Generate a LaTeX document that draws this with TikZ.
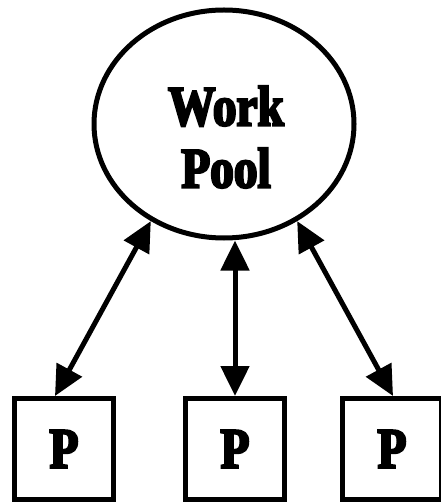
\documentclass[tikz,border=0pt]{standalone}
\usepackage{fontspec}
\setmainfont{Liberation Serif}
\newfontfamily\diagfont[FakeStretch=0.83,BoldFeatures={FakeBold=4}]{Liberation Serif}
\usetikzlibrary{arrows.meta,shapes.geometric}

\begin{document}
\begin{tikzpicture}[x=1pt,y=-1pt,line width=5pt,
    bigtext/.style={font=\diagfont\bfseries\fontsize{57}{62}\selectfont},
    procbox/.style={draw,rectangle,minimum width=99pt,minimum height=101pt,inner sep=0pt,bigtext},
    link/.style={{Triangle[length=30pt,width=28pt]}-{Triangle[length=30pt,width=28pt]}}]
    \useasboundingbox (0,0) rectangle (440,502);

    % Work pool
    \node[draw,ellipse,minimum width=260pt,minimum height=228pt,inner sep=0pt] (pool) at (224,124) {};
    \node[bigtext,align=center,inner sep=0pt] (pooltext) at (226,137) {Work\\Pool};

    % Processes
    \node[procbox] (p1) at (64,449) {P};
    \node[procbox] (p2) at (235,449) {P};
    \node[procbox] (p3) at (392,449) {P};

    % Two-way links
    \draw[link] (pool.233) -- ([xshift=-9pt]p1.north);
    \draw[link] (p2.north |- pool.south) -- (p2.north);
    \draw[link] (pool.307) -- ([xshift=1pt]p3.north);
\end{tikzpicture}
\end{document}
